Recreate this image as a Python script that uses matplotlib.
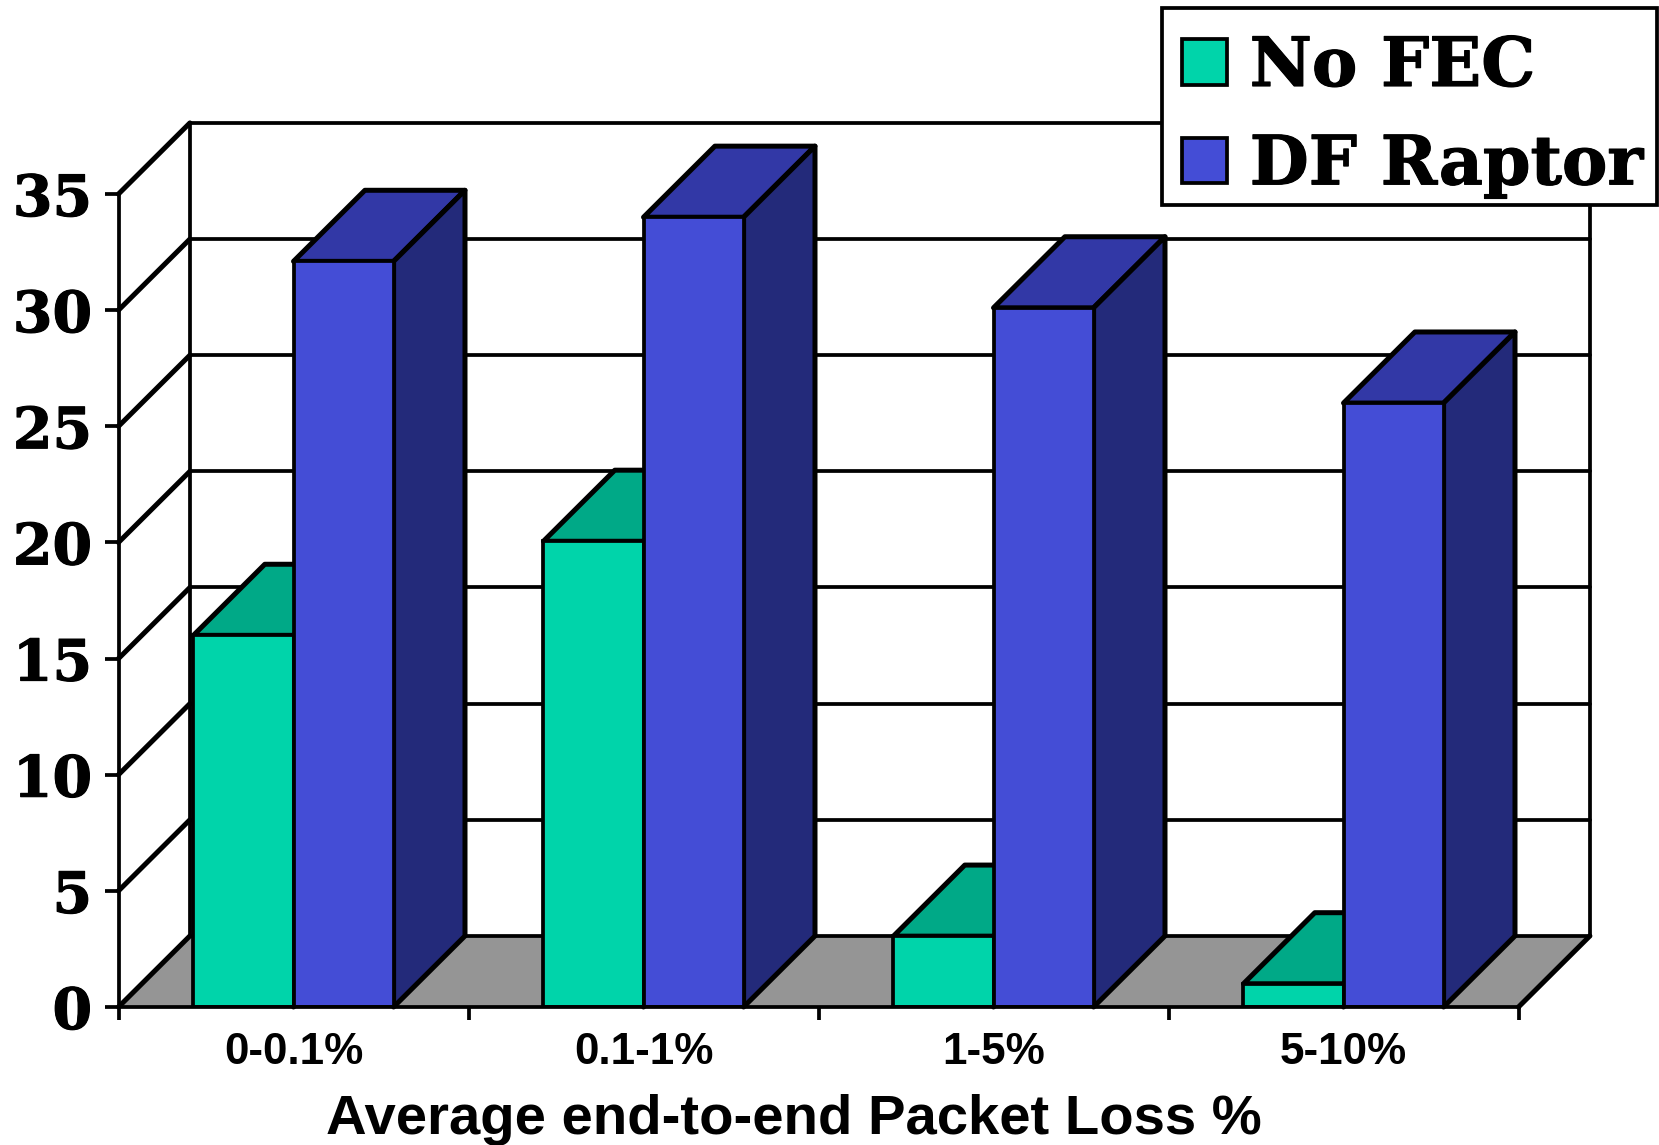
import matplotlib
matplotlib.use("Agg")
import matplotlib.pyplot as plt
import matplotlib.patheffects as pe
import numpy as np
from matplotlib.patches import Patch, Polygon, Rectangle

categories = ["0-0.1%", "0.1-1%", "1-5%", "5-10%"]
no_fec = [16.0, 20.05, 3.05, 1.0]
df_raptor = [32.1, 34.0, 30.1, 26.0]
yticks = [0, 5, 10, 15, 20, 25, 30, 35]

GREEN = ("#00D4AA", "#00A987", "#007F66")
BLUE = ("#444DD6", "#3238A6", "#232A7A")
FLOOR = "#959595"

W, H = 1659, 1145
LW = 2.7
DIAG = 3.6
BAR_W = 0.286
# depth of the fake 3d box, in data units
DX = 0.204
DY = 3.06

serif = dict(family="DejaVu Serif", weight="bold")
thick = [pe.withStroke(linewidth=0.8, foreground="black")]

fig = plt.figure(figsize=(W / 100, H / 100), dpi=100)
ax = fig.add_axes([118.5 / W, 1 - 1007 / H, 1400 / W, 813 / H])
ax.set_xlim(0, 4)
ax.set_ylim(0, 35)


def line(xs, ys, lw=LW):
    ax.plot(xs, ys, color="black", lw=lw, clip_on=False, zorder=0.6, solid_capstyle="round")


# floor
ax.add_patch(Polygon([(0, 0), (4, 0), (4 + DX, DY), (DX, DY)], facecolor=FLOOR, edgecolor="none",
                     clip_on=False, zorder=0.5))

# walls and grid
for v in yticks:
    line([0, DX], [v, v + DY], DIAG)
    line([DX, 4 + DX], [v + DY, v + DY])
line([DX, DX], [DY, 35 + DY])
line([4 + DX, 4 + DX], [DY, 35 + DY])
line([4, 4 + DX], [0, DY], DIAG)


def draw_bar(x0, value, colors):
    x1 = x0 + BAR_W
    ax.add_patch(Polygon([(x0, value), (x1, value), (x1 + DX, value + DY), (x0 + DX, value + DY)],
                         facecolor=colors[1], edgecolor="black", lw=DIAG, joinstyle="round",
                         clip_on=False, zorder=1))
    ax.add_patch(Polygon([(x1, 0), (x1 + DX, DY), (x1 + DX, value + DY), (x1, value)],
                         facecolor=colors[2], edgecolor="black", lw=DIAG, joinstyle="round",
                         clip_on=False, zorder=1))
    ax.bar(x0, value, BAR_W, align="edge", color=colors[0], edgecolor="black", lw=LW, zorder=1)


centers = np.arange(len(categories)) + 0.5
for c, a, b in zip(centers, no_fec, df_raptor):
    draw_bar(c - BAR_W, a, GREEN)
    draw_bar(c, b, BLUE)

# axes
for s in ["top", "right"]:
    ax.spines[s].set_visible(False)
for s in ["left", "bottom"]:
    ax.spines[s].set_linewidth(LW)
ax.patch.set_visible(False)

ax.set_yticks(yticks)
ax.tick_params(axis="y", length=10, width=LW, pad=9)
for t in ax.get_yticklabels():
    t.set_fontsize(41)
    t.set(**serif)
    t.set_path_effects(thick)

ax.set_xticks(range(5))
ax.set_xticklabels([])
ax.tick_params(axis="x", which="major", length=9, width=LW)
ax.set_xticks(centers, minor=True)
ax.set_xticklabels(categories, minor=True, family="Liberation Sans", weight="bold", fontsize=31.7)
ax.tick_params(axis="x", which="minor", length=0, pad=18)

ax.set_xlabel("Average end-to-end Packet Loss %", family="Liberation Sans", weight="bold",
              fontsize=40.5, va="center")
ax.xaxis.set_label_coords(0.4825, -0.139)

# legend, the box is separate so the rows can sit a bit low in it like the original
fig.add_artist(Rectangle((1162 / W, 1 - 205 / H), 495 / W, 197 / H, transform=fig.transFigure,
                         facecolor="white", edgecolor="black", lw=LW, zorder=9))
handles = [Patch(facecolor=GREEN[0], edgecolor="black", lw=LW),
           Patch(facecolor=BLUE[0], edgecolor="black", lw=LW)]
leg = fig.legend(handles, ["No FEC", "DF Raptor"], loc="upper left",
                 bbox_to_anchor=(1165 / W, 1 - 18 / H), borderaxespad=0, frameon=False,
                 prop=dict(family="DejaVu Serif", weight="bold", size=49),
                 handlelength=0.655, handleheight=0.655, handletextpad=0.34, labelspacing=0.49,
                 borderpad=0.25)
leg.set_zorder(10)
for t in leg.get_texts():
    t.set_path_effects(thick)

plt.savefig("out.png", dpi=100)
